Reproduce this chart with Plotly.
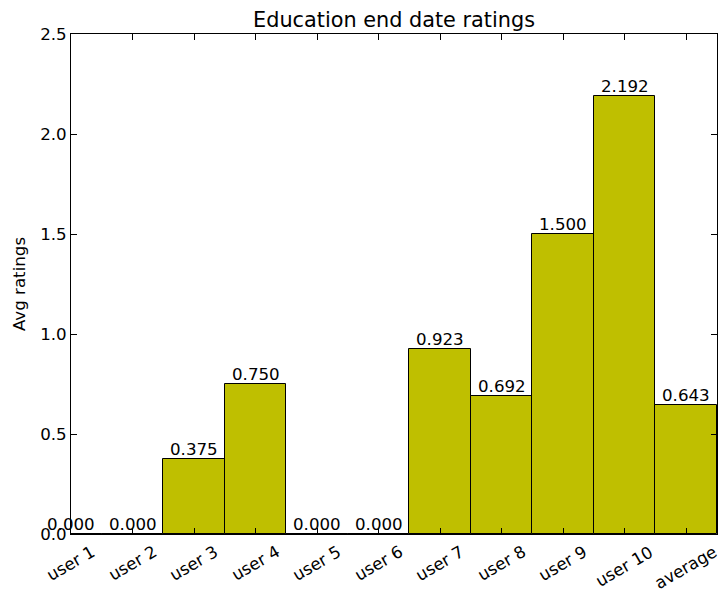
import plotly.graph_objects as go

# Average education end date ratings per user
categories = ["user 1", "user 2", "user 3", "user 4", "user 5", "user 6",
              "user 7", "user 8", "user 9", "user 10", "average"]
avg_ratings = [0.000, 0.000, 0.375, 0.750, 0.000, 0.000,
               0.923, 0.692, 1.500, 2.192, 0.643]
y_ticks = [0.0, 0.5, 1.0, 1.5, 2.0, 2.5]

FONT = "DejaVu Sans"
BASE = 16.67
BAR_COLOR = "#bfbf00"

fig = go.Figure()
fig.add_trace(go.Bar(
    x=categories,
    y=avg_ratings,
    width=1.0,
    marker=dict(color=BAR_COLOR, line=dict(color="black", width=1)),
    hoverinfo="x+y",
))

annotations = []
# value labels sitting on top of each bar
for cat, v in zip(categories, avg_ratings):
    annotations.append(dict(
        x=cat, y=v, xref="x", yref="y", text=f"{v:.3f}",
        showarrow=False, xanchor="center", yanchor="bottom",
        font=dict(family=FONT, size=BASE, color="black"),
        borderpad=0, yshift=-1,
    ))
# rotated category labels centred under each tick
for cat in categories:
    annotations.append(dict(
        x=cat, y=0, xref="x", yref="y", text=cat,
        showarrow=False, xanchor="center", yanchor="top",
        textangle=-30, yshift=-6,
        font=dict(family=FONT, size=BASE, color="black"),
    ))

axis_common = dict(
    showline=True, linecolor="black", linewidth=1, mirror="ticks",
    ticks="inside", ticklen=6, tickwidth=1, tickcolor="black",
    showgrid=False, zeroline=False,
    tickfont=dict(family=FONT, size=BASE, color="black"),
)

fig.update_layout(
    width=721, height=590,
    margin=dict(l=71, r=4, t=34, b=56),
    paper_bgcolor="white", plot_bgcolor="white",
    bargap=0,
    showlegend=False,
    title=dict(text="Education end date ratings", x=0.5465, xanchor="center",
               y=0.967, yanchor="middle",
               font=dict(family=FONT, size=20.8, color="black")),
    xaxis=dict(type="category", range=[0, 10.5], showticklabels=False,
               **axis_common),
    yaxis=dict(range=[0, 2.5], tickvals=y_ticks, tickformat=".1f",
               title=dict(text="Avg ratings", standoff=10,
                          font=dict(family=FONT, size=BASE, color="black")),
               **axis_common),
    annotations=annotations,
)

fig.write_html("out.html")
